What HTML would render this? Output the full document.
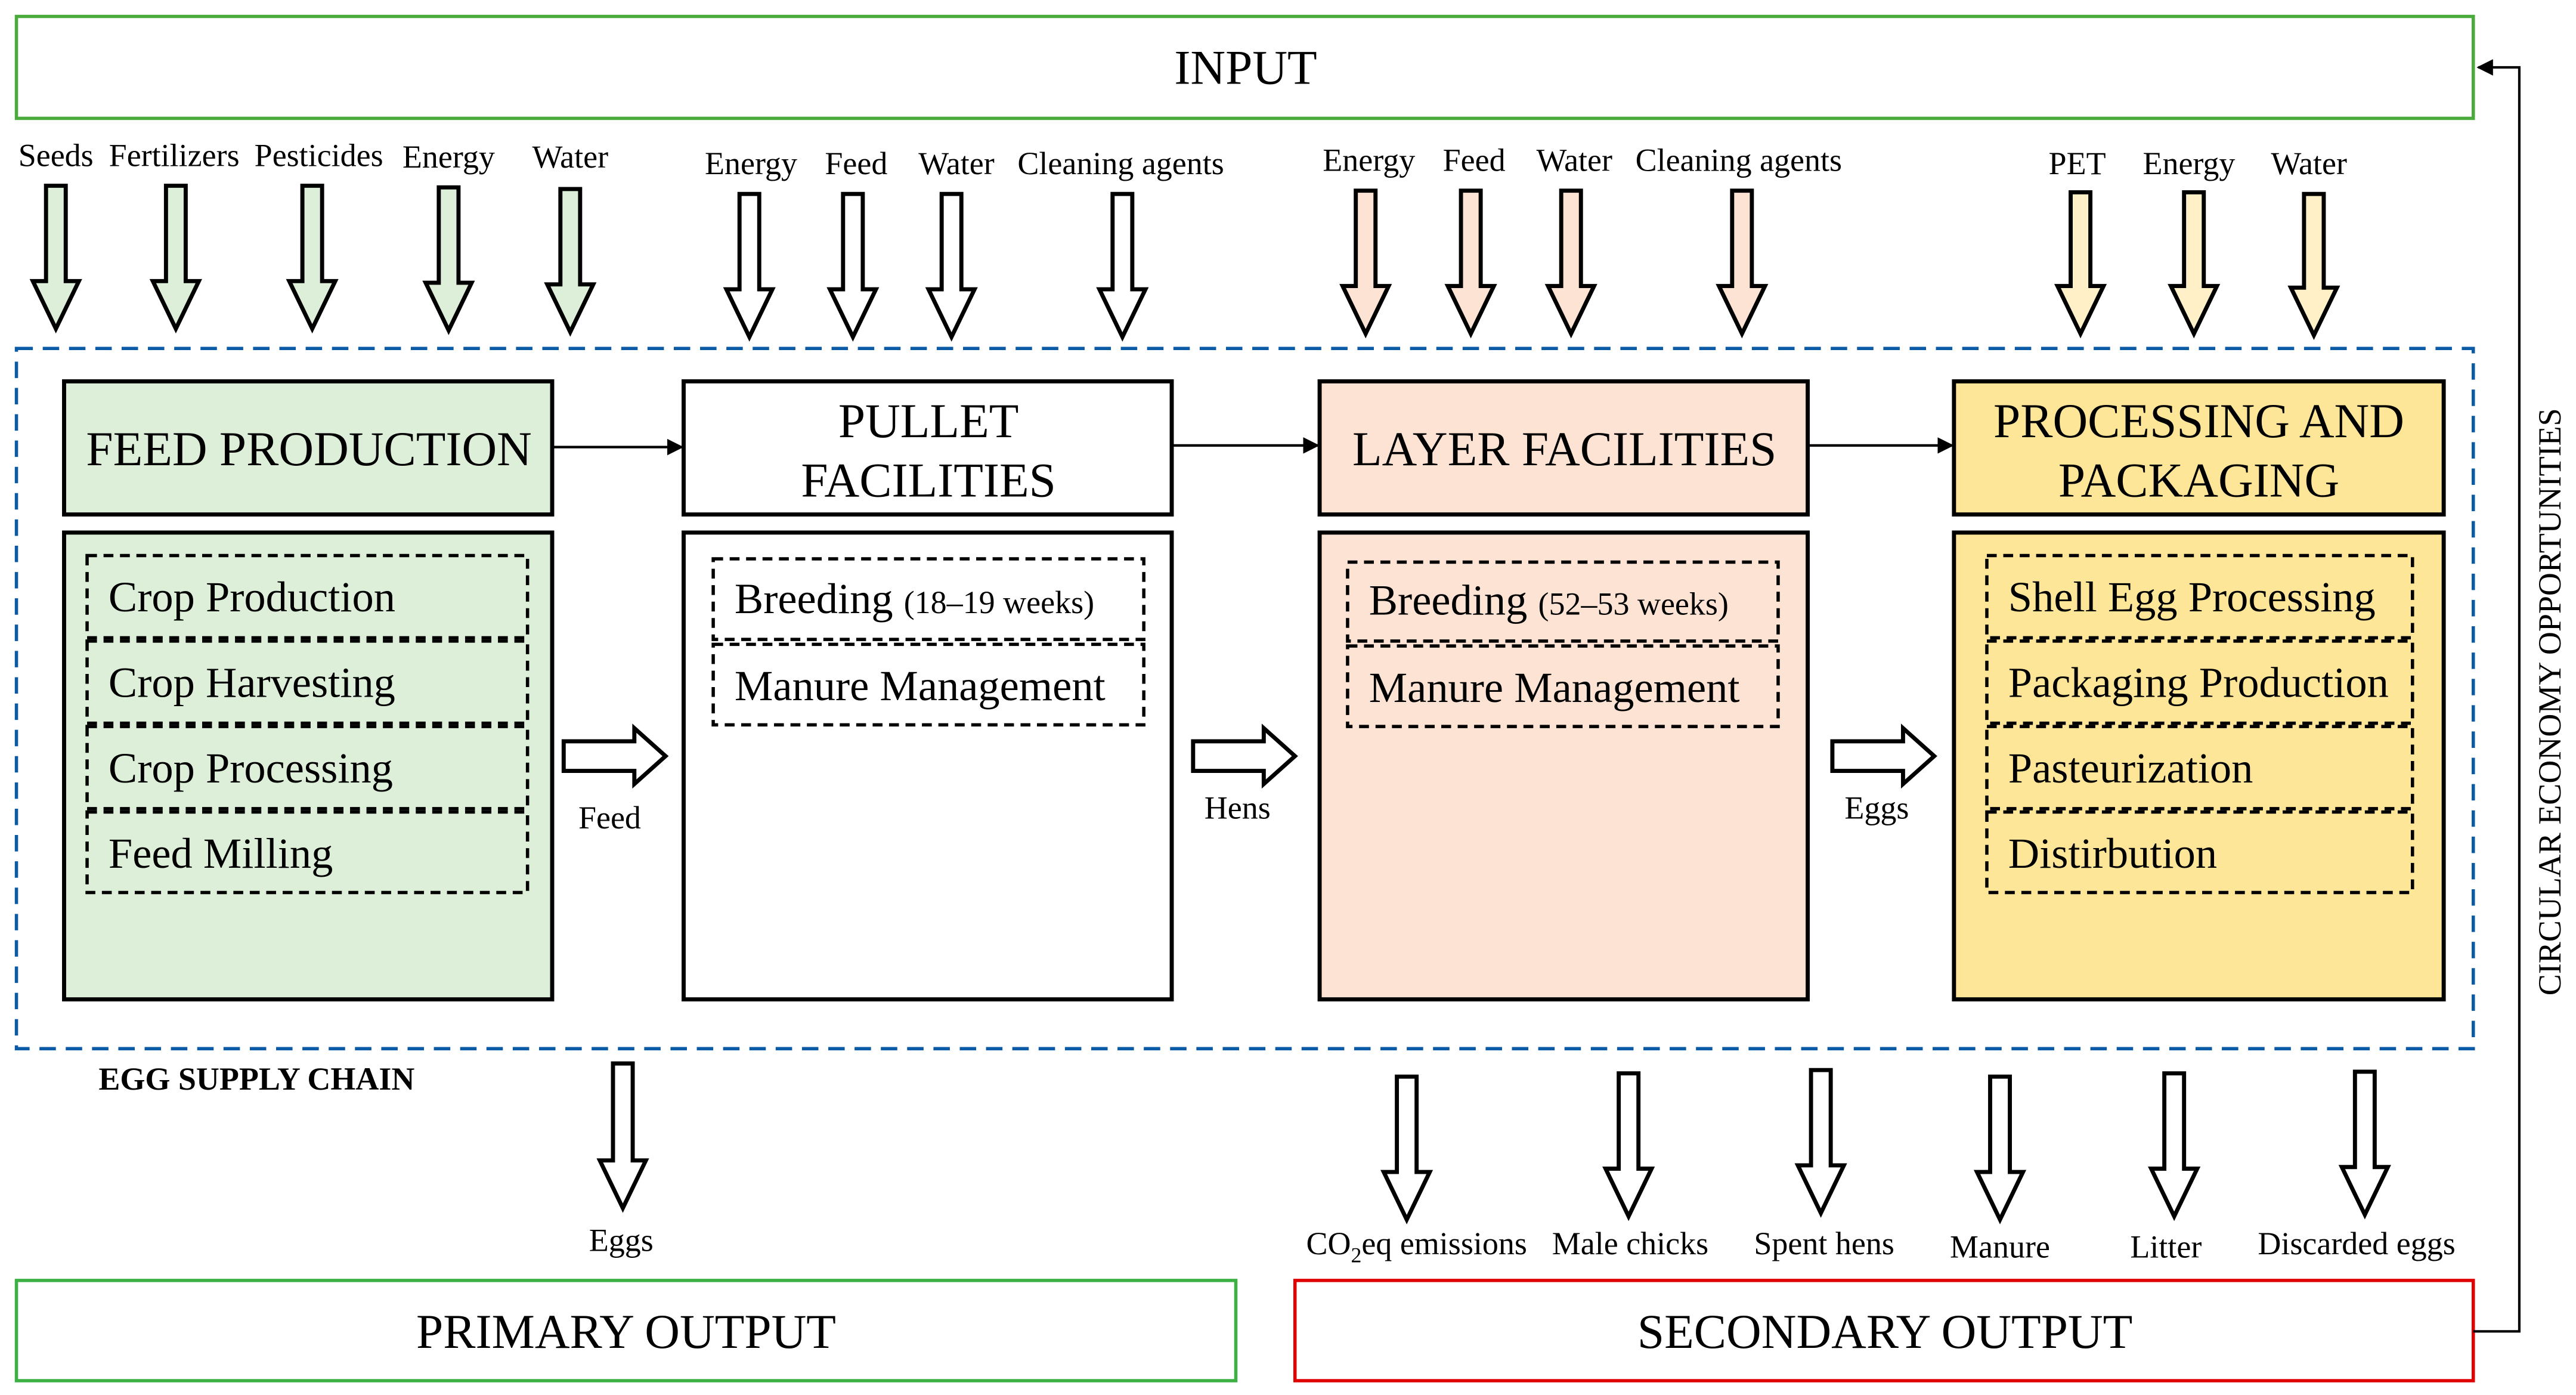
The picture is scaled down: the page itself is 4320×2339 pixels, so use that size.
<!DOCTYPE html>
<html><head><meta charset="utf-8"><style>
html,body{margin:0;padding:0;background:#fff;}
svg{display:block;}
text{font-family:"Liberation Serif",serif;fill:#000;}
</style></head><body>
<svg width="4320" height="2339" viewBox="0 0 1567.5 848.7" preserveAspectRatio="none" xmlns="http://www.w3.org/2000/svg">
<defs>
<marker id="ah" markerWidth="10" markerHeight="10" refX="9" refY="5" orient="auto" markerUnits="userSpaceOnUse"><path d="M0,0 L10,5 L0,10 Z" fill="#000"/></marker>
</defs>
<rect x="10" y="10" width="1495" height="62" fill="#fff" stroke="#4aaa3c" stroke-width="2"/>
<text x="758" y="51" font-size="29.5" text-anchor="middle">INPUT</text>

<g font-size="19.6" text-anchor="middle">
<text x="34" y="101">Seeds</text><text x="106" y="101">Fertilizers</text><text x="194" y="101">Pesticides</text><text x="273" y="102">Energy</text><text x="347" y="102">Water</text>
<text x="457" y="106">Energy</text><text x="521" y="106">Feed</text><text x="582" y="106">Water</text><text x="682" y="106">Cleaning agents</text>
<text x="833" y="104">Energy</text><text x="897" y="104">Feed</text><text x="958" y="104">Water</text><text x="1058" y="104">Cleaning agents</text>
<text x="1264" y="106">PET</text><text x="1332" y="106">Energy</text><text x="1405" y="106">Water</text>
</g>

<g stroke="#000" stroke-width="2.5" stroke-linejoin="miter">
<g fill="#ddefd9">
<path d="M28 113H40V171H48L34 200L20 171H28Z"/>
<path d="M101 113H113V171H121L107 200L93 171H101Z"/>
<path d="M184 113H196V171H204L190 200L176 171H184Z"/>
<path d="M267 114H279V172H287L273 201L259 172H267Z"/>
<path d="M341 115H353V173H361L347 202L333 173H341Z"/>
</g>
<g fill="#fff">
<path d="M450 118H462V176H470L456 205L442 176H450Z"/>
<path d="M513 118H525V176H533L519 205L505 176H513Z"/>
<path d="M573 118H585V176H593L579 205L565 176H573Z"/>
<path d="M677 118H689V176H697L683 205L669 176H677Z"/>
</g>
<g fill="#fde3d4">
<path d="M825 116H837V174H845L831 203L817 174H825Z"/>
<path d="M889 116H901V174H909L895 203L881 174H889Z"/>
<path d="M950 116H962V174H970L956 203L942 174H950Z"/>
<path d="M1054 116H1066V174H1074L1060 203L1046 174H1054Z"/>
</g>
<g fill="#fff0c8">
<path d="M1260 117H1272V174H1280L1266 203L1252 174H1260Z"/>
<path d="M1329 117H1341V174H1349L1335 203L1321 174H1329Z"/>
<path d="M1402 118H1414V175H1422L1408 204L1394 175H1402Z"/>
</g>
</g>

<rect x="10" y="212" width="1495" height="426" fill="none" stroke="#0b5aa5" stroke-width="2" stroke-dasharray="10,6"/>
<text x="60" y="663" font-size="19.6" font-weight="bold">EGG SUPPLY CHAIN</text>

<g stroke="#000" stroke-width="2.5">
<rect x="39" y="232" width="297" height="81" fill="#ddefd9"/>
<rect x="39" y="324" width="297" height="284" fill="#ddefd9"/>
<rect x="416" y="232" width="297" height="81" fill="#fff"/>
<rect x="416" y="324" width="297" height="284" fill="#fff"/>
<rect x="803" y="232" width="297" height="81" fill="#fde3d4"/>
<rect x="803" y="324" width="297" height="284" fill="#fde3d4"/>
<rect x="1189" y="232" width="298" height="81" fill="#fee699"/>
<rect x="1189" y="324" width="298" height="284" fill="#fee699"/>
</g>
<g font-size="29.5" text-anchor="middle">
<text x="188" y="283">FEED PRODUCTION</text>
<text x="565" y="266">PULLET</text><text x="565" y="302">FACILITIES</text>
<text x="952" y="283">LAYER FACILITIES</text>
<text x="1338" y="266">PROCESSING AND</text><text x="1338" y="302">PACKAGING</text>
</g>

<g stroke="#000" stroke-width="1.5" fill="none">
<line x1="336" y1="272" x2="415" y2="272" marker-end="url(#ah)"/>
<line x1="713" y1="271" x2="802" y2="271" marker-end="url(#ah)"/>
<line x1="1100" y1="271" x2="1188" y2="271" marker-end="url(#ah)"/>
</g>

<g fill="none" stroke="#000" stroke-width="2" stroke-dasharray="6,4">
<rect x="53" y="338" width="268" height="50"/><rect x="53" y="390" width="268" height="50"/><rect x="53" y="442" width="268" height="50"/><rect x="53" y="494" width="268" height="49"/>
<rect x="434" y="340" width="262" height="49"/><rect x="434" y="392" width="262" height="49"/>
<rect x="820" y="342" width="262" height="48"/><rect x="820" y="393" width="262" height="49"/>
<rect x="1209" y="338" width="259" height="50"/><rect x="1209" y="390" width="259" height="50"/><rect x="1209" y="442" width="259" height="50"/><rect x="1209" y="494" width="259" height="49"/>
</g>
<g font-size="26.3">
<text x="66" y="372">Crop Production</text><text x="66" y="424">Crop Harvesting</text><text x="66" y="476">Crop Processing</text><text x="66" y="528">Feed Milling</text>
<text x="447" y="373">Breeding <tspan font-size="19.6">(18–19 weeks)</tspan></text><text x="447" y="426">Manure Management</text>
<text x="833" y="374">Breeding <tspan font-size="19.6">(52–53 weeks)</tspan></text><text x="833" y="427">Manure Management</text>
<text x="1222" y="372">Shell Egg Processing</text><text x="1222" y="424">Packaging Production</text><text x="1222" y="476">Pasteurization</text><text x="1222" y="528">Distirbution</text>
</g>

<g fill="#fff" stroke="#000" stroke-width="2.5">
<path d="M343 451H386V443L405 460L386 477V469H343Z"/>
<path d="M726 451H769V443L788 460L769 477V469H726Z"/>
<path d="M1115 451H1158V443L1177 460L1158 477V469H1115Z"/>
</g>
<g font-size="19.6" text-anchor="middle">
<text x="371" y="504">Feed</text><text x="753" y="498">Hens</text><text x="1142" y="498">Eggs</text>
</g>

<g fill="#fff" stroke="#000" stroke-width="2.5">
<path d="M373 647H385V706H393L379 735L365 706H373Z"/>
<path d="M850 655H862V713H870L856 742L842 713H850Z"/>
<path d="M985 653H997V711H1005L991 740L977 711H985Z"/>
<path d="M1102 651H1114V709H1122L1108 738L1094 709H1102Z"/>
<path d="M1211 655H1223V713H1231L1217 742L1203 713H1211Z"/>
<path d="M1317 653H1329V711H1337L1323 740L1309 711H1317Z"/>
<path d="M1433 652H1445V710H1453L1439 739L1425 710H1433Z"/>
</g>
<g font-size="19.6" text-anchor="middle">
<text x="378" y="761">Eggs</text>
<text x="862" y="763">CO<tspan font-size="13" dy="5">2</tspan><tspan dy="-5">eq emissions</tspan></text>
<text x="992" y="763">Male chicks</text><text x="1110" y="763">Spent hens</text><text x="1217" y="765">Manure</text><text x="1318" y="765">Litter</text><text x="1434" y="763">Discarded eggs</text>
</g>

<rect x="10" y="779" width="742" height="61" fill="#fff" stroke="#3cb043" stroke-width="2"/>
<text x="381" y="820" font-size="29.5" text-anchor="middle">PRIMARY OUTPUT</text>
<rect x="788" y="779" width="717" height="61" fill="#fff" stroke="#e00000" stroke-width="2"/>
<text x="1147" y="820" font-size="29.5" text-anchor="middle">SECONDARY OUTPUT</text>

<polyline points="1505,810 1533,810 1533,41 1508,41" fill="none" stroke="#000" stroke-width="1.5" marker-end="url(#ah)"/>
<text transform="translate(1558,427) rotate(-90)" font-size="19.6" text-anchor="middle">CIRCULAR ECONOMY OPPORTUNITIES</text>
</svg>
</body></html>
